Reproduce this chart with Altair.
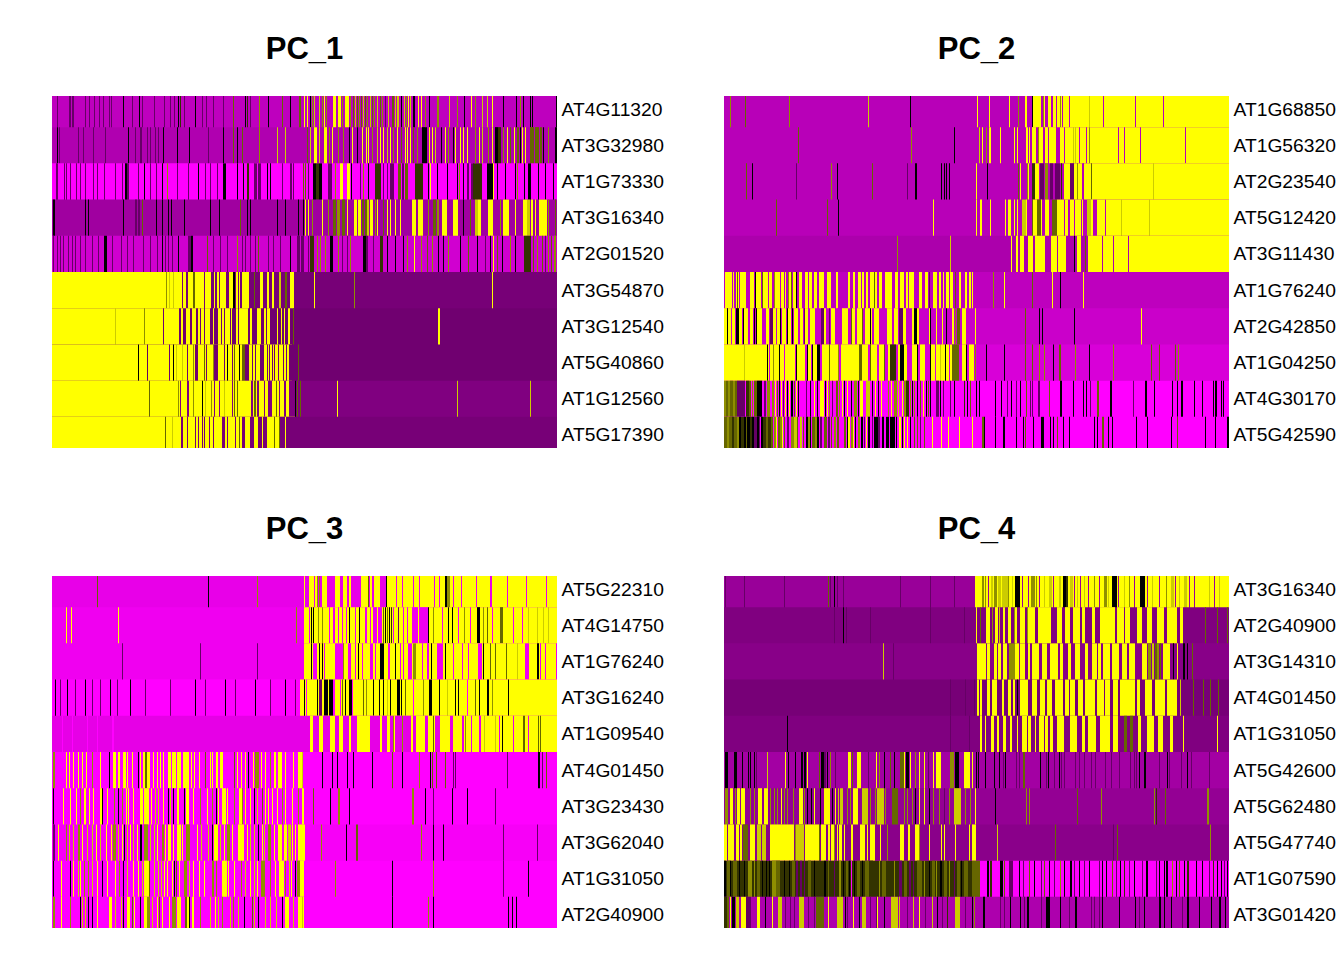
import re
import altair as alt
import pandas as pd

# Each row: base z-score, then runs "<first cell><level>[<cell count>]" over 505 cells.
LEVELS = {"m": -2.5, "p": -1.6, "q": -1.0, "d": -0.5, "k": 0.0, "o": 0.5, "h": 1.0, "i": 1.4, "j": 2.0, "y": 2.5}
CELLS = 505

titles = ["PC_1", "PC_2", "PC_3", "PC_4"]

genes_1 = ["AT4G11320", "AT3G32980", "AT1G73330", "AT3G16340", "AT2G01520", "AT3G54870", "AT3G12540", "AT5G40860", "AT1G12560", "AT5G17390"]
genes_2 = ["AT1G68850", "AT1G56320", "AT2G23540", "AT5G12420", "AT3G11430", "AT1G76240", "AT2G42850", "AT1G04250", "AT4G30170", "AT5G42590"]
genes_3 = ["AT5G22310", "AT4G14750", "AT1G76240", "AT3G16240", "AT1G09540", "AT4G01450", "AT3G23430", "AT3G62040", "AT1G31050", "AT2G40900"]
genes_4 = ["AT3G16340", "AT2G40900", "AT3G14310", "AT4G01450", "AT1G31050", "AT5G42600", "AT5G62480", "AT5G47740", "AT1G07590", "AT3G01420"]

base_1 = [-1.86, -1.73, -2.5, -1.57, -2.04, -1.17, -1.10, -1.10, -1.25, -1.17]
base_2 = [-1.8, -1.8, -1.8, -1.8, -1.69, -1.86, -1.98, -2.12, -2.5, -2.5]
base_3 = [-2.27, -2.35, -2.35, -2.5, -2.25, -2.5, -2.5, -2.42, -2.5, -2.5]
base_4 = [-1.5, -1.25, -1.33, -1.17, -1.25, -1.6, -1.45, -1.35, -2.5, -1.7]

runs_1 = [
 "5q 17q2 20q2 33q 37q 42q 47q 51q 57q 59q 71k 80q 87k 90q 102q 112q 118q 122q 126k 128o 132q 143k 150q 154q 161q 171q 181h 193k 195o 198q 207i 216k 230h 238k 247h2 252y 255y 258k 260i 262j 267j 270i 272y 274i 281y3 286y3 290i 293y4 298i 301h 303j 305h 307i 309h 311j 313h 315i 318j 320h 322i 325j 328h 330i 333q 336j 340h2 343j 345j2 349k 352j 354i 356y 358j 361k2 366y 369y 373i 377k 385i2 397j 405i 412k 419y 423i 430j 435j 440y 451k 464k 468i 471k 478k 480k 504k",
 "5k 7q 26q 31q 41q 53q 76k 83q 88q2 95q 98q 103q 106q 111k 125k 137k 156q 171k 181h 185k 190h 207i 225j 233j 255h 258j 262y 263y2 267j 272y3 277i 280y 286i 291i 297k 300y 305k 310y 314y 316y 320i 325j 328y 331y 335j 338y 341i 345y 349h 353y 355y 358y 361h 365i 370k3 373k2 377y 380y 383j 389k 393y 396i 401k 403y 408y 411y 415y 423i 427y 430j 436i 440y 443k3 446o3 451i 455y 458h 462y 465h2 468k 470y 473y 478h4 483h4 488h2 491k 496i 503k2",
 "4q 5q 12q 14q 18q 24q 28q 33q 41q 45q 52q 63q 70q 73k2 75q2 86q 92k 98q 104q 110k 115i 125q 136q 146k 153q 158q 165q 171k3 185k 191k 195o2 202q3 206q3 215k 218k 230q 238q2 241q 251h 253h 256q 261k3 264o3 267k3 276q4 283i 288y3 295y3 299k 308q 311i 316k 323o3 326o3 331q 335q 338q4 346h3 350q2 353h3 363o4 367o4 376k 378y 385k 395k 405k 407i 411k 415q2 419q3 421o5 426o4 435k3 438k3 441y 445k 453k 463k 465i 472k 476k3 486k 493k 501k",
 "1k2 33k 36k 71k 83q2 86q2 90h 104k 110k 116k 119k 132k 158k 167k 188h 195k 198k 225k 233k 246k 251k 253y 256y 260i 270y 276i 281h3 285i3 290h3 295y 302y3 306y3 310h2 313h2 315j2 318y3 323i 325y 331h 335y 338y 343y 348y 360y4 366y5 376i 381h3 385i2 390y5 401y5 411k 418h 423j3 426y3 436y5 448i 451y3 454y3 463y 471y4 475j3 479y2 483y 487y4 491y4 496i 503h",
 "1q 5q 8q 11q 16q 20q 23q 28q 33q 40q 46q 52k2 54k 60q 69q 75q 81q 91q 98q 105q 110k 113q 116q 120q 126k 136q3 139k2 155h 161q 168q 175q 185i 190q 193q 198q 203q 206h 216q 221q 228q 238k 245q3 249q 256q 250q2 258o4 265i 268i 273i 278k3 286i 290q 295q 298i 311k3 314q2 321q 328o3 335k 343k 351k 355i 362y 369i 375h 380i 386k 391k 396i 408k 416h 425k 433q 438k 441y 445h 450k 458i 463k 472o7 481h 485i 490h 493q 496i 499h 502i2",
 "0y130 131y3 136y5 142y10 153y6 162y1 165y2 168y6 177y5 181k2 184y2 187y1 190y7 114i 117j 121j 141h2 199b 202h 208y3 215y2 220y2 227j2 233h2 238y4 262y 302i 440y",
 "0y111 112y15 129y2 134y4 140y4 146y2 149y3 153y5 161y1 166y3 170y2 173y5 179y1 184y2 187y9 198y2 205y4 212y2 215y3 225y1 229y1 232y1 236y2 241h 63j 92i 386y2",
 "0y240 86k 95q 117b 121k 124j 130j 135b 141i 143b3 152h 154b 161i 162b4 172b 175k 180b 182h 187k 190h3 193b4 200b 203b 208b4 215b 217b 220b 222b 226b 231b 234b 237b3 246h",
 "0y240 97h 126i 128b 135b2 141i 150k 153j 159i 162b 167b 172j 180b 182h 185h 199b2 202h2 205b2 212b 216b4 224h 227b 232b2 237b6 243k 245h 248h 285y 405j 478j",
 "0y243 113h 120j 129b2 135b 143b 146b 150b 152b 157b 161b 170b3 175b 183b 187h 190b3 198b4 206b4 211b4 222h 227h 228b5 234b4 238b5",
]

runs_2 = [
 "6i 21h 65i 144j 186k 253y 265y 285y 294i 301y2 308k 309y2 311y4 315y2 319i 320y 324y3 329y3 333y172 336i 338b 345b 365j 379b 411b 439b",
 "74h 187i 230k 255j 258y 262i 265y2 276y 290y 293y 302y2 305y 308y4 314i 315y4 321y3 325y7 336y169 340b 349j 351j 355b 362b 365i 394b 400b 416b 461b",
 "22h 28k 72q 107i 113k 148h 183q 191k2 217k 220k 222k 225k 252y 263k 294h 296y 303i 304y 308o3 311y4 316q4 321i3 326q3 331q5 337o 340y6 346q4 350y3 354y4 360y8 353i 359b 367h 368y137 429j",
 "52h 103h 114k 209y 252y 256y2 266y 281y 284y3 290y 293y 298j4 302y 308h 309y4 313h4 317y 321y4 328h5 333y7 341y3 346y4 351y6 363j6 358y 367y2 373y8 382y123 397j 425j",
 "173i 226j 287y 292y2 296y4 304y4 308y 311y4 315y6 327y6 334y8 350k 353y4 361h 364y14 379y5 384y5 390y11 401y3 405y37 442y63",
 "1y7 9y1 12y3 16y6 26y4 31y6 39y5 45y3 50y6 57y3 61y1 64y3 69y3 75y3 81y3 85y3 90y3 95y5 103y4 112y2 124y2 129y2 134y3 138y2 142y2 146y5 151y2 155y3 161y7 171y3 176y4 182y2 185y5 195y3 201y3 209y4 215y2 219y1 222y3 226y3 235y2 241y2 245y2 248y1 31k 13h 38h 50i 72k 64i 67h 150h 205q 231h 269i 280y 308h 328y 336k 359y",
 "0y3 3k 4y3 8y3 12k3 15y3 19k 20y4 26y3 30k 32k 33y5 42y3 46q3 49y3 53y3 56k 58y4 63k 64y3 68k 70y4 76y3 80q 81y3 86y5 97q3 100y2 105q 107y4 113b 118y6 127h 128y3 133y5 138h 141y7 146k 150y5 161b 163y5 170y4 175q4 179y3 188y2 190k3 193y2 205y 206k 212y 218y 222k 228y2 231i 233h3 238y4 251y 301h 315k 318k 350k 417y",
 "0y45 20j 43k 46y4 49i 50y5 55k 56y4 60b 61y10 72k 73y8 83k 84y3 88k 89y4 93k3 96b 98y7 105h 106y8 114i 117y18 135h3 138y6 146h 147y6 155y5 160h 164y3 166o6 174y2 176k4 180y3 188y5 193k 196y5 205b 206k 207y4 211b 212y4 216j 217y4 221k 222y3 225b 226y2 228h7 238y5 242k 245y5 251i 262k 280k 301h 308h 315i 320i 329k 335h2 351i 365k 389i 427h 435h 451h 454i",
 "0i2 2h2 4i2 6h3 9i2 11h2 13q3 16q5 22o3 25h2 28i 30h3 33k5 38m1 40q2 43i3 48i2 51y 53h 55k 57y 59q 61y 63k 65y 67k2 70h 72y 74k 82q 86k 90y 93k 96y4 101k 103y 105i 108q 112h2 115i 118y 120k 123y 127k 130i3 134k 136y3 142j4 148k 151y 154k 157y 164i 167y 170i3 174j 178y 180i3 182o3 186i 188k 190i 193k 196h 199y 202k 204h 206k 212q3 216k 219q 226q 230k 240o 243k 246h 252k 255k 271k 277k 283q 287k 292q 296k 302h 306q 308q 314q2 325h 336k2 349k 359k 362k 366q 373h2 386k2 409q 421k2 430k 448k 453k 457k2 470k 478k 489k 491k2 497k 499k",
 "0h3 3i2 5h3 8o2 10h3 13i2 15k2 17o3 20k2 22h 23k3 26o2 28k2 30q3 33k2 35q 37k2 39o3 42h2 44o3 47h2 50i2 52y 54h2 56i2 58y 60h 63q2 67i3 70j3 73h 76j2 79h 82k2 84i2 86k 88h3 91i2 93k2 96q2 100h3 104q2 107h 110i2 113h2 116m 120h2 123k 124y2 127i2 129y 131k 134i2 137k2 140q 142y 144k2 148q 150k4 154q2 158k2 162k3 166k4 170k 172k 175y2 178k 180y 183y 186k 190h 193h 196q 200h 208y 217y 224y 235y 248y 258h2 260k 271k 279k2 292k 299k 301h 309k 317k3 326k 329k 333h 339k 345k 370k 373k 378h2 384k 388k 412k 423k 447k 453h 481k 491k 503k2",
]

runs_3 = [
 "45h 156k 205i 252y 257y5 263y2 265i 267i 270y5 283y5 291y2 293y2 297y2 309y4 313y3 316h 318y2 322y6 334k 335y170 344b 350b 361b 367b 382b 387b 393k2 395i3 401b 409b 424b 438b2 455b 474b 494b",
 "14y 19y 66y 244i 252y253 257b 259k 261k 266i 270i 277b 281b2 286b 290b 294b 297k 303b 307k 313b2 318b 321b4 326b4 331h 333k 335h 337k 339o 341b 346q 351b 355b 360b6 367b9 376k 381i 390b 396k 400k 406b 412i 418b 425k3 431i 435h 440b 448h3 461b 470b 476j 485j 491j 496j",
 "70q 148q 205q 252y253 259k 261b4 267k 270k 272b 283b9 291i 296b3 303b 306k 310b 318b3 323b 328k4 336b2 343k 348b 351b 356b4 361i3 370b 375b2 379k 385b6 393k 401b 410b 416b 426b4 431k 438h 443h 454h 465j 473b4 485k2 488b 493b 504b",
 "3k 8q 15k 23q 33k 40q 48q 58k 65q 78k 93q 118q 143k 153q 173k 183q 203k 218q 233k 243q 248y257 252k 254b 265k 267q3 272k4 277k4 281b2 288b 290h 293k 297k3 300b 311h 314i 320y 321k 327k 331k 335j 338k 345k3 349k 353h 361b 371i 377k3 387k 395j 403k 406k 415b 423h 427k 435k 436k 440i 456k",
 "10m 20m 35m 45m 60m2 258y247 261b6 271b7 283b4 291b6 299b6 318b10 330b5 338b3 343b7 351b8 361b3 373b3 383b5 398b3 410b2 419b 427b2 447b 461b 476b 341i 350i 381h 413i 432j 443j 450k 471h2 486h 488h",
 "1i2 14y1 17y1 21y 26y 30y 34y 40i 48y 57k 61y3 66y2 71y3 75y 80y 86k 88y 91y2 93h2 95y3 101y 105y 108y 111y 116y3 120y4 125y4 131y6 139y 142y 147y 153h 158y 160y 164y2 168y3 182h 185y 189y 193y 196k 201y 203i4 209y 213y 218i 222y2 226y4 233y 241y 246y4 250j 270k 280k 285k 295k 301k 320k 340h 350k 367i 378k 380h 384h 393h 401q 403q 455q 486k2 490q 494h",
 "1k 11y 18y 24y 28i 32y2 37y 41y 48y2 50k 55y 62i 66k 70i 74y 76y 81y 88y3 92y4 96y 99y 103j 106j 111y 116k 118j 121k 125y2 132k 134y3 141y 148i 155y 160i 164k 166y 170y4 175y 182i 187y3 190i 193y 198y 202k 205j 210h 213y 216y 220y 225y 230i 233y 240y 246i 250y2 261h 278k 286i2 297k 360i2 373k 381q 400k 415k 443q",
 "1q2 6y 14i 17j 21j 26i2 30y 35j 40j 44y 48j 54y 59y 61i3 66j 70y 72k 75j 78y 81j 85y 88k2 92i4 98j 102j 105y 110i2 113y 116y3 121y 125y4 130y 134i4 145y 149j 156j 160k 162y4 168j 172y 175i3 180y 186y6 195y 198j 202j 206k 210y 212j 216i3 222y 226y4 232y3 236j3 240y 243y 246y6 252y 269i 294k 304h2 369i 381k 391k 451q 485q",
 "1k 9y 18k 21y 26j 28y 32i 36i 40j 45y 50k 55y 63y 67i 71k 75j 81y 86y 90j 92y5 97h 102j 106j 109j 112y 115y 120y 122k 124h 127y 132i3 137j 141y 147y 152y 160i2 164i 170y5 176y 182y 189i 193j 198y 202j 205y 209i4 218i 223y 227y5 233i 237j 239y 243k 245i3 248y4 283i 340k 381i 451q 476k",
 "1i2 9y 18i 28k 30j 33j 36k 40k 45y 57y3 63j 69j 71k 75y3 80h 82y 88k 92y3 95i3 100j 105y 107h 110y 117y 120i4 125y4 133h2 135y2 137k 140y2 148i 158j 163y 166j 170i 178j 181i 186j 192k 200h 202j 206k 213j 218j 224j 230k 233y4 241j 246y6 250j 340k 376i 381k 456k 460k 464k",
]

runs_4 = [
 "1q 20q 60q 104h 106q 110k 113q 119q 176q 206q 230q 251y254 258i2 261i 264b 267j2 270i3 274j3 278j6 284i 288j 291k3 294k2 298b 304b 307i4 312i 315b 320j 325j3 329b 335j2 339k3 342o2 346j3 350b 353j 356b 360j 364b 370i 375b 380i3 384j 388k3 391k2 394b 400j 405i 410b 416k3 419k2 423b 428j 435b 442i 447j3 451b 455j 460j3 465b 470b 485j 490b 495j",
 "110q 119k 122q 146q 206q 240q 252y 256h 262y4 268i 271y3 275j 279y2 284y3 290i 291y2 296y5 303i 304y7 314y13 333y5 341y5 349y7 358y3 368y3 376y15 393y7 401y5 413y5 423y5 433y7 443y10 456y3 481h 493h 503h",
 "159j 169q 253y9 263y3 270y3 274y3 279y4 285i6 291y4 296y5 304y2 308y4 312y3 318y5 326y8 336y3 344y3 351y5 361y3 368y5 374y3 379y7 388y7 398y5 405y6 418y5 424i3 428j2 431h2 433i2 436h 439y7 449k 453y 459k2 463k 468h",
 "226q 241q 250q 253y2 256y2 263y3 268y5 278y2 284y3 289y2 293k 296y8 308y5 316y5 323y5 331y8 341y4 346y5 354y5 361y10 373y7 381y5 389y5 396y15 413y3 421y7 431y10 443y10 456j 469h 479h 486h 494h",
 "63k 226q 245q 256y2 261y 267y3 273y2 279y3 286y2 293y 298y5 304y3 311y 315y5 321y3 326y3 333y7 346y7 358y3 364y8 376y10 389y5 400h3 406h3 414y3 423y7 434y5 446y3 459y 493y",
 "1k3 10k3 18k 24k 26k 30k 32q 43j 61y 64k 71k 77k2 80k2 83y 95h 97k3 100q2 103k 106i 111q 124y3 128h 133y4 144q 152y 155i 160k 166h 170k 176h4 180y 182k3 186y 191i 195y 200y 204q 209y 212y5 226i4 231k4 240y6 248y 252k 254k 261k 270k 275k 279q 281k 292q 295q 299h2 316k 322q 324k 330q 335k 337q 340q 351q 355q 360q 367q 371q 381q 387q 395q 406q 410q 412q 415k 420k2 435q 443k 445q 457q 463k 467q 485q",
 "1i3 6y3 11i 13y3 17y4 26i 30i 34y4 40y4 46i 50i 53i 57y 60i 63i 69i 75y4 80i 83k 87k 90y 96k 100y6 108k 111y 114j 116j3 123i 126i 129y5 138j6 146i 151i 153j7 161i 168h6 180i 183i 188i 191k 195y 200y 205k 209i 215i 220q 225i 230j7 241i 246i 251y 271k 302i 305i 353h 377i 430i 432o 441h 483i2",
 "0y3 4y3 7y3 12y3 16y2 19h5 26y5 33j4 38j4 46y24 71i 72j8 81y14 95h 97y5 104y2 107y3 110i 113y 115y3 120y 127y2 136y5 143y 146y5 156y 163i 176y4 184y2 191y4 195i 205y 217y 220y 231y 245y 248y4 273j 331h 389q 393h 486i",
 "0o248 0k2 3h3 6k 9h4 15k 20k 24i4 30i 33h3 38k 42k 48i4 45k 52h4 60k 65k 68h3 72q2 76q2 80q 84h3 90k 95o 100k2 104h 110q 115i2 119k 122h2 125k 127m 130k 133h3 138k 141h4 146o3 155i 158h4 170i 175q3 180h3 185q2 189q 193h5 200i 205k 208h3 212i 216k2 220h3 225i 230q 233h3 237k 240h4 245o 248h8 263k2 266o2 276k3 280h 285q4 295k 299q 305h 310k 317q 320h 325k 330q 336i 340k 346k2 350q 355k 360q 365k 375q 378k 382k 388h 392q 396k 400o 405q 410k 418q 422k2 432q 435k 440k 442k2 448i 452k 455h 460k 463o2 472k 478k 485q 489o 493k 497k 500q 503k",
 "0o3 3h2 6y 8k3 12j3 17y5 22q5 33y3 41k 48y 54j4 61q 66q 70q 75j5 84q 90q 92h4 96h4 104y 113j6 121k 123q 129y 135k 138j4 146q 152q 153y 160k 167j7 175j 183q 189j 195y 201q 208j 213k 218q 223o 231j5 241q 248k 250i 259k2 276q 280q 286k 296k 300q 303k2 317q 322k4 336k 345q 351k2 367q 370q 375q 378k 395k 411k 415q 420k 435k2 440k 447k 458q 463k2 475k 487k 495k2 501k",
]


def table(base, runs):
    rows = []
    for r, (b, spec) in enumerate(zip(base, runs), start=1):
        rows.append({"row": r, "c0": 0, "c1": CELLS, "z": b, "n": len(rows)})
        for start, code, count in re.findall(r"(\d+)([a-z])(\d*)", spec):
            s = int(start)
            z = b if code == "b" else LEVELS[code]
            rows.append({"row": r, "c0": s, "c1": min(CELLS, s + int(count or 1)), "z": z, "n": len(rows)})
    d = pd.DataFrame(rows)
    d["top"] = d["row"] - 0.5
    d["bottom"] = d["row"] + 0.53
    return d


def panel(title, genes, base, runs):
    labels = "[" + ",".join(f"'{g}'" for g in genes) + "][datum.value-1]"
    return (
        alt.Chart(table(base, runs))
        .mark_rect(clip=True, strokeWidth=0)
        .encode(
            x=alt.X("c0:Q", axis=None, scale=alt.Scale(domain=[0, CELLS], nice=False, zero=False)),
            x2="c1:Q",
            y=alt.Y(
                "top:Q",
                scale=alt.Scale(domain=[0.64, 10.36], reverse=True, nice=False, zero=False),
                axis=alt.Axis(
                    orient="right", values=list(range(1, 11)), labelExpr=labels, title=None,
                    ticks=False, domain=False, grid=False, labelPadding=4, labelFontSize=19.25,
                    labelFont="Liberation Sans", labelColor="#000000", labelBaseline="middle",
                    minExtent=107, maxExtent=107, labelBound=False, labelFlush=False,
                ),
            ),
            y2="bottom:Q",
            color=alt.Color(
                "z:Q", legend=None,
                scale=alt.Scale(domain=[-2.5, 0, 2.5], range=["#ff00ff", "#000000", "#ffff00"], interpolate="rgb"),
            ),
            order="n:Q",
        )
        .properties(
            width=CELLS, height=352,
            title=alt.Title(title, fontSize=31, font="Liberation Sans", fontWeight="bold",
                            anchor="middle", frame="group", offset=30, color="#000000"),
        )
    )


chart = (
    alt.concat(
        panel(titles[0], genes_1, base_1, runs_1),
        panel(titles[1], genes_2, base_2, runs_2),
        panel(titles[2], genes_3, base_3, runs_3),
        panel(titles[3], genes_4, base_4, runs_4),
        columns=2,
    )
    .properties(spacing={"row": 66, "column": 60}, padding={"left": 44, "top": 26, "right": 0, "bottom": 0})
    .configure_view(stroke=None)
)

chart.save("out.html", embed_options={"renderer": "svg", "actions": False})
